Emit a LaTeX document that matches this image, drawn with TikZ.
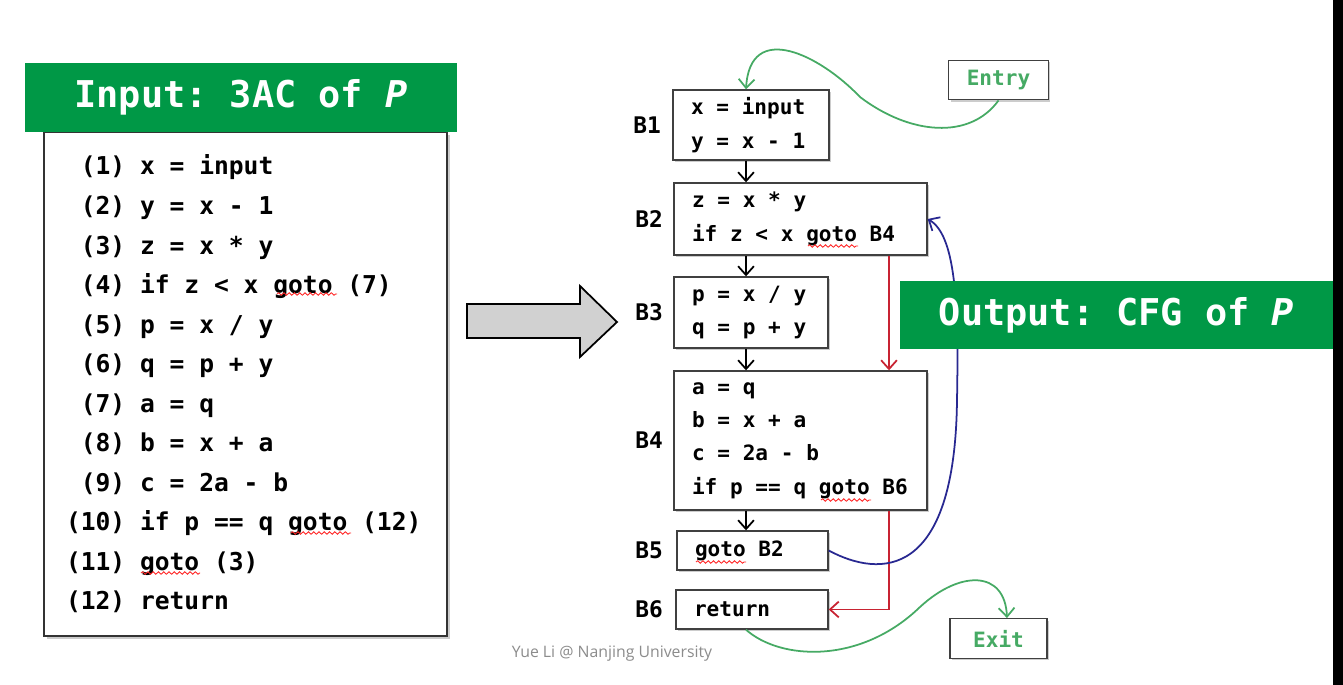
\documentclass[tikz,border=0pt]{standalone}
\usepackage{fontspec}
\setmonofont{DejaVu Sans Mono}
\setsansfont{Open Sans}
\usetikzlibrary{positioning,arrows.meta,shadows,decorations.pathmorphing}

\definecolor{titlegreen}{RGB}{0,152,70}
\definecolor{jumpred}{RGB}{200,35,50}
\definecolor{backblue}{RGB}{40,40,145}
\definecolor{edgegreen}{RGB}{70,170,100}

\newcommand\monofont[2]{\ttfamily\bfseries\fontsize{#1}{#2}\selectfont}

\begin{document}
\begin{tikzpicture}[x=0.02cm,y=-0.02cm,
    title/.style={fill=titlegreen, text=white, inner sep=0pt,
      font=\monofont{21pt}{25pt}},
    codebox/.style={draw=black!80, line width=0.9pt, fill=white,
      drop shadow={shadow xshift=1.5pt, shadow yshift=-1.5pt, opacity=0.4},
      inner xsep=0.44cm, inner ysep=0pt, align=left,
      font=\monofont{14pt}{22.5pt},
      execute at begin node={\spaceskip=0.602em\relax\xspaceskip=0.602em\relax}},
    block/.style={draw=black!75, line width=0.8pt, fill=white,
      drop shadow={shadow xshift=1.2pt, shadow yshift=-1.2pt, opacity=0.4},
      inner xsep=0.36cm, inner ysep=0pt, align=left,
      font=\monofont{12pt}{19pt},
      execute at begin node={\spaceskip=0.602em\relax\xspaceskip=0.602em\relax}},
    blabel/.style={font=\monofont{13pt}{15pt}, inner sep=0pt},
    termbox/.style={block, align=center, text=edgegreen, minimum width=1.94cm, minimum height=0.79cm},
    flow/.style={line width=1pt, -{Straight Barb[length=5pt,width=9pt]}},
    jump/.style={flow, jumpred},
    back/.style={flow, backblue},
    link/.style={flow, edgegreen},
    typo/.style={draw=red!85, line width=0.5pt, decorate,
      decoration={snake, segment length=3pt, amplitude=0.7pt}}
  ]
  \fill[white] (0,0) rectangle (1343,685);
  \fill[black] (1333,0) rectangle (1343,685);
  \useasboundingbox (0,0) rectangle (1343,685);

  % input program
  \node[codebox, text width=7.18cm, minimum height=10.08cm] (code) at (245.5,384) {%
    \phantom{1}(1) x = input\\
    \phantom{1}(2) y = x - 1\\
    \phantom{1}(3) z = x * y\\
    \phantom{1}(4) if z < x goto (7)\\
    \phantom{1}(5) p = x / y\\
    \phantom{1}(6) q = p + y\\
    \phantom{1}(7) a = q\\
    \phantom{1}(8) b = x + a\\
    \phantom{1}(9) c = 2a - b\\
    (10) if p == q goto (12)\\
    (11) goto (3)\\
    (12) return};
  \node[title, minimum width=8.64cm, minimum height=1.38cm] (intitle) at (241,97.5) {Input: 3AC of \textit{P}};

  \draw[typo] (277,294) -- (337,294);
  \draw[typo] (291,533) -- (351,533);
  \draw[typo] (141,573) -- (200,573);

  \draw[line width=1pt, fill=black!18] (467,304) -- (580,304) -- (580,286) -- (617,322)
    -- (580,357) -- (580,338) -- (467,338) -- cycle;

  % basic blocks
  \node[block, text width=2.4cm, minimum height=1.4cm] (b1) at (751,125) {x = input\\y = x - 1};
  \node[block, text width=4.34cm, minimum height=1.44cm] (b2) at (800.5,219) {z = x * y\\if z < x goto B4};
  \node[block, text width=2.36cm, minimum height=1.42cm] (b3) at (751,312.5) {p = x / y\\q = p + y};
  \node[block, text width=4.34cm, minimum height=2.78cm] (b4) at (800.5,440.5) {a = q\\b = x + a\\c = 2a - b\\if p == q goto B6};
  \node[block, text width=2.3cm, minimum height=0.78cm] (b5) at (752.5,550.5) {goto B2};
  \node[block, text width=2.32cm, minimum height=0.78cm] (b6) at (752,609.5) {return};

  \draw[typo] (808,246) -- (858,246);
  \draw[typo] (821,500) -- (871,500);
  \draw[typo] (696,562) -- (746,562);

  \node[blabel, left=0.22cm of b1] {B1};
  \node[blabel, left=0.2cm of b2] {B2};
  \node[blabel, left=0.2cm of b3] {B3};
  \node[blabel, left=0.2cm of b4] {B4};
  \node[blabel, left=0.26cm of b5] {B5};
  \node[blabel, left=0.24cm of b6] {B6};

  \node[termbox] (entry) at (998.5,80) {Entry};
  \node[termbox] (exit) at (998.5,638.5) {Exit};

  \coordinate (spine) at (746,0);
  \coordinate (rail) at (889,0);

  \draw[flow] (b1.south -| spine) -- (b2.north -| spine);
  \draw[flow] (b2.south -| spine) -- (b3.north -| spine);
  \draw[flow] (b3.south -| spine) -- (b4.north -| spine);
  \draw[flow] (b4.south -| spine) -- (b5.north -| spine);

  \draw[jump] (b2.south -| rail) -- (b4.north -| rail);
  \draw[jump] (b4.south -| rail) |- (b6.east);

  \draw[back] (b5.east) .. controls (880,578) and (955,580) .. (957,400)
    .. controls (959,300) and (955,235) .. (b2.east);

  \draw[link] (entry.south) .. controls (970,140) and (910,135) .. (860,97)
    .. controls (820,55) and (750,20) .. (b1.north -| spine);
  \draw[link] (b6.south -| spine) .. controls (780,660) and (860,665) .. (920,607)
    .. controls (960,570) and (1005,570) .. ([xshift=0.17cm]exit.north);

  \node[title, minimum width=8.66cm, minimum height=1.36cm] (outtitle) at (1116.5,315) {Output: CFG of \textit{P}};

  \node[font=\sffamily\fontsize{9pt}{11pt}\selectfont, text=black!45] (credit) at (612,654) {Yue Li @ Nanjing University};
\end{tikzpicture}
\end{document}
